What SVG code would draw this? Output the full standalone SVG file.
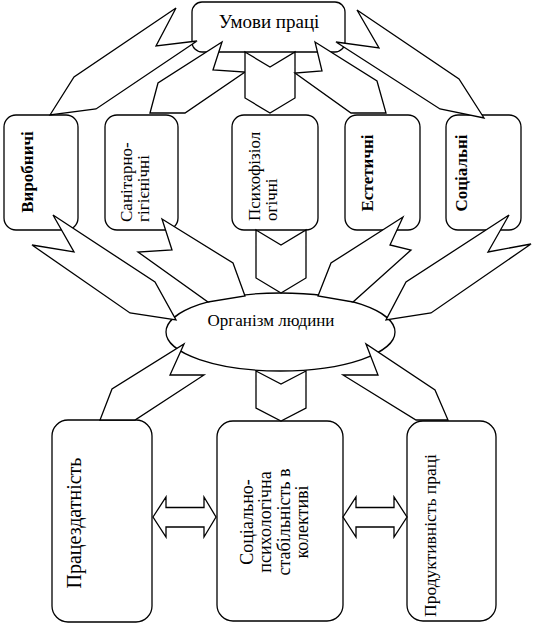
<svg xmlns="http://www.w3.org/2000/svg" width="533" height="625" viewBox="0 0 533 625">
<style>
.box{fill:#fff;stroke:#000;stroke-width:1.3}
.arr{fill:#fff;stroke:#000;stroke-width:1.3;stroke-linejoin:miter}
.t{font-family:"Liberation Serif","Times New Roman",serif;fill:#000}
.b{font-weight:bold}
</style>
<rect width="533" height="625" fill="#fff"/>
<g id="node-umovy">
<rect class="box" x="192" y="2" width="153" height="50" rx="10"/>
<text class="t" x="269" y="28" font-size="19" text-anchor="middle">Умови праці</text>
</g>
<g id="node-vyrobnychi">
<rect class="box" x="4" y="115" width="74" height="115" rx="12"/>
<text class="t b" font-size="17" text-anchor="middle" transform="translate(33,172) rotate(-90)">Виробничі</text>
</g>
<g id="node-sanitarno">
<rect class="box" x="105" y="115" width="73" height="115" rx="12"/>
<text class="t" font-size="17" transform="translate(132,222) rotate(-90)">Санітарно-</text>
<text class="t" font-size="17" transform="translate(149,222) rotate(-90)">гігієнічні</text>
</g>
<g id="node-psykho">
<rect class="box" x="232" y="115" width="86" height="115" rx="12"/>
<text class="t" font-size="17" transform="translate(260,221) rotate(-90)">Психофізіол</text>
<text class="t" font-size="17" transform="translate(277,221) rotate(-90)">огічні</text>
</g>
<g id="node-estetychni">
<rect class="box" x="345" y="115" width="75" height="115" rx="12"/>
<text class="t b" font-size="17" text-anchor="middle" transform="translate(373,173) rotate(-90)">Естетичні</text>
</g>
<g id="node-sotsialni">
<rect class="box" x="446" y="115" width="75" height="115" rx="12"/>
<text class="t b" font-size="17" text-anchor="middle" transform="translate(467,173) rotate(-90)">Соціальні</text>
</g>
<g id="node-organizm">
<ellipse class="box" cx="280.5" cy="332" rx="114.5" ry="39"/>
<text class="t" x="271" y="326" font-size="17" text-anchor="middle">Організм людини</text>
</g>
<g id="node-pratsezdatnist">
<rect class="box" x="52" y="420" width="100" height="202" rx="16"/>
<text class="t" font-size="20" text-anchor="middle" transform="translate(81,523) rotate(-90)">Працездатність</text>
</g>
<g id="node-stabilnist">
<rect class="box" x="217" y="421" width="126" height="200" rx="16"/>
<g class="t" font-size="18" text-anchor="middle">
<text transform="translate(253,522) rotate(-90)">Соціально-</text>
<text transform="translate(271,522) rotate(-90)">психологічна</text>
<text transform="translate(290,522) rotate(-90)">стабільність в</text>
<text transform="translate(308,522) rotate(-90)">колективі</text>
</g>
</g>
<g id="node-produktyvnist">
<rect class="box" x="407" y="421" width="89" height="200" rx="16"/>
<text class="t" font-size="17.5" transform="translate(436,617) rotate(-90)">Продуктивність праці</text>
</g>
<g id="connectors">
<polygon class="arr" points="50,115 74,77 176,8 156,46 197,41 96,109"/>
<polygon class="arr" points="150,113 158,83 222,42 213,70 245,72 185,113"/>
<polygon class="arr" points="245,52 270,67 295,52 295,98 270,113 245,98"/>
<polygon class="arr" points="315,42 377,81 386,113 351,113 295,73 322,71"/>
<polygon class="arr" points="357,10 459,79 484,118 440,109 336,42 379,48"/>
<polygon class="arr" points="53,215 155,282 176,320 130,313 32,245 74,252"/>
<polygon class="arr" points="162,219 233,263 245,296 208,302 138,252 172,250"/>
<polygon class="arr" points="256,230 281,245 306,230 306,278 281,293 256,278"/>
<polygon class="arr" points="403,217 331,263 318,296 353,302 411,250 390,245"/>
<polygon class="arr" points="509,215 406,282 386,320 431,313 531,244 488,252"/>
<polygon class="arr" points="184,344 170,375 204,375 135,420 100,420 112,389"/>
<polygon class="arr" points="256,371 281,384 306,371 306,408 281,421 256,408"/>
<polygon class="arr" points="366,344 378,375 343,375 416,420 448,420 435,390"/>
<polygon class="arr" points="153,517 166,497 166,507.5 204,507.5 204,497 216,517 204,537 204,527 166,527 166,537"/>
<polygon class="arr" points="343,517 356,497 356,507.5 394,507.5 394,497 407,517 394,537 394,527 356,527 356,537"/>
</g>
</svg>
